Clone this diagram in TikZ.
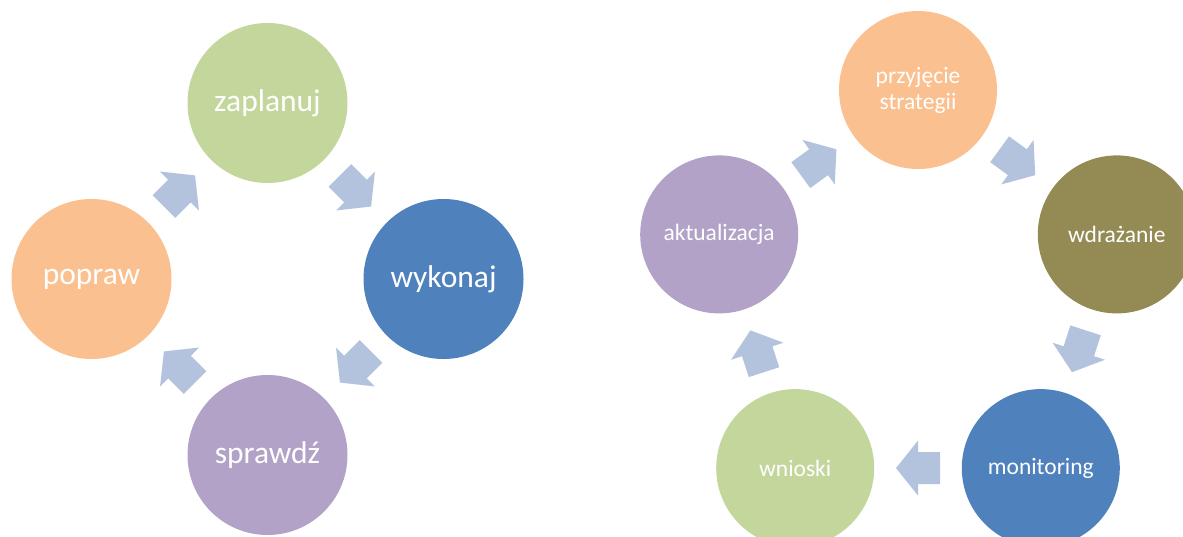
\documentclass[tikz,border=0pt]{standalone}
\usepackage{fontspec}
\setmainfont{Carlito}
\usetikzlibrary{calc}
\definecolor{cgreen}{HTML}{C3D69B}
\definecolor{cblue}{HTML}{4F81BD}
\definecolor{cpeach}{HTML}{FAC090}
\definecolor{cpurple}{HTML}{B2A2C7}
\definecolor{colive}{HTML}{948A54}
\definecolor{carrow}{HTML}{B3C3DD}
\tikzset{
  stage/.style={circle, minimum size=160pt, inner sep=0pt, text=white, align=center},
  bigtxt/.style={font=\fontsize{31.5}{36}\selectfont},
  smalltxt/.style={font=\fontsize{23.5}{26}\selectfont},
  barrow/.style={fill=carrow, draw=none}
}
\newcommand\flowarrow[3]{%
  \path ($(#1)!0.5!(#2)$) coordinate (#3);
  \pgfmathanglebetweenpoints{\pgfpointanchor{#1}{center}}{\pgfpointanchor{#2}{center}}%
  \edef\fa{\pgfmathresult}%
  \fill[barrow, shift={(#3)}, rotate=\fa]
    (-22,-16) -- (0,-16) -- (0,-27.5) -- (22,0) -- (0,27.5) -- (0,16) -- (-22,16) -- cycle;
}
\begin{document}
\begin{tikzpicture}[x=1pt,y=-1pt]
\useasboundingbox (0,0) rectangle (1183,536);
% left cycle
\node[stage, bigtxt, fill=cgreen]  (zap) at (267.5,103) {zaplanuj};
\node[stage, bigtxt, fill=cblue]   (wyk) at (443.5,279) {wykonaj};
\node[stage, bigtxt, fill=cpurple] (spr) at (267.5,455) {sprawdź};
\node[stage, bigtxt, fill=cpeach]  (pop) at (91.5,279)  {popraw};
\flowarrow{zap}{wyk}{a1}
\flowarrow{wyk}{spr}{a2}
\flowarrow{spr}{pop}{a3}
\flowarrow{pop}{zap}{a4}
% right cycle
\node[stage, smalltxt, fill=cpeach, minimum size=158pt]  (prz) at (918,90)      {przyjęcie\\strategii};
\node[stage, smalltxt, fill=colive, minimum size=158pt]  (wdr) at (1116.8,234.4) {wdrażanie};
\node[stage, smalltxt, fill=cblue, minimum size=158pt]   (mon) at (1040.8,468.1) {monitoring};
\node[stage, smalltxt, fill=cgreen, minimum size=158pt]  (wni) at (795.2,468.1)  {wnioski};
\node[stage, smalltxt, fill=cpurple, minimum size=158pt] (akt) at (719.2,234.4)  {aktualizacja};
\flowarrow{prz}{wdr}{b1}
\flowarrow{wdr}{mon}{b2}
\flowarrow{mon}{wni}{b3}
\flowarrow{wni}{akt}{b4}
\flowarrow{akt}{prz}{b5}
\end{tikzpicture}
\end{document}
